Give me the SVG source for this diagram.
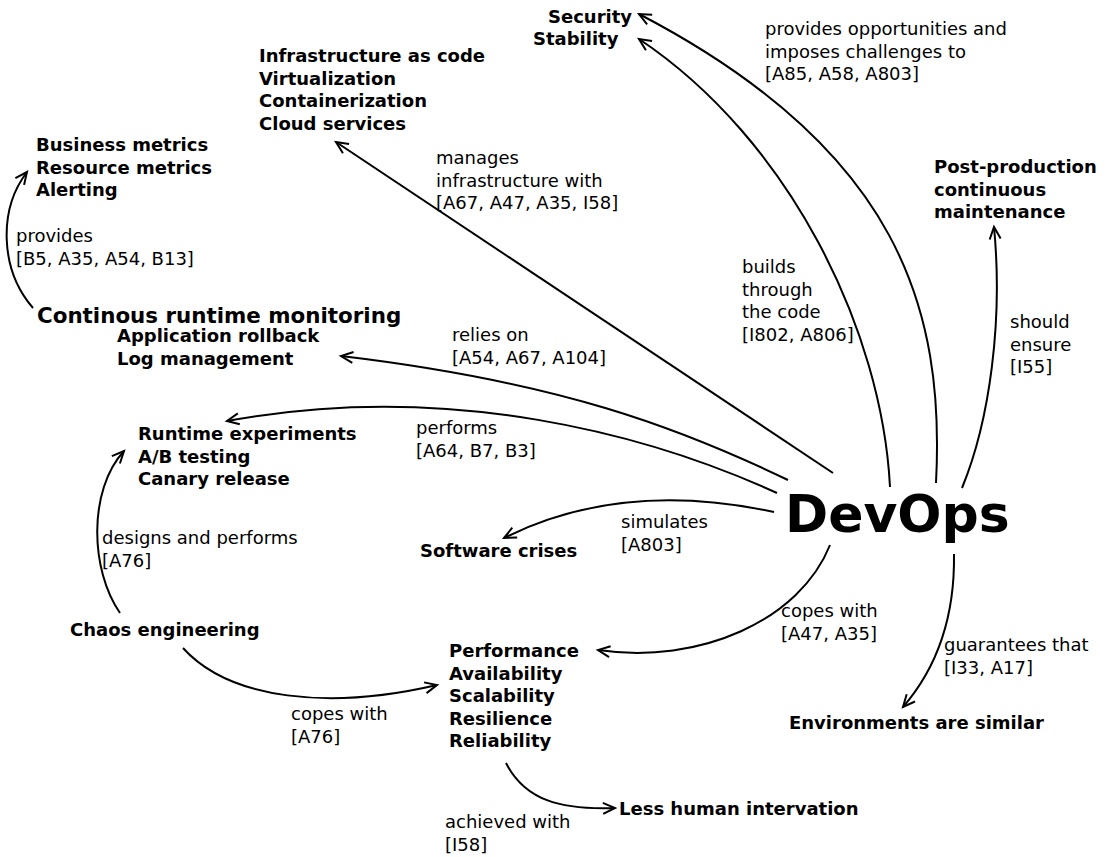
<svg xmlns="http://www.w3.org/2000/svg" width="1111" height="857" viewBox="0 0 1111 857">
<style>
text{font-family:"DejaVu Sans","Liberation Sans",sans-serif;fill:#000}
.n{font-size:18px;font-weight:bold}
.l{font-size:18px}
.big{font-size:52px;font-weight:bold}
.mon{font-size:21.4px;font-weight:bold}
.e{fill:none;stroke:#000;stroke-width:2;marker-end:url(#a)}
</style>
<defs>
<marker id="a" markerUnits="userSpaceOnUse" markerWidth="30" markerHeight="30" refX="0" refY="0" orient="auto" overflow="visible" viewBox="-15 -15 30 30">
<path d="M-12,-5.5 L0,0 L-12,5.5" fill="none" stroke="#000" stroke-width="2"/>
</marker>
</defs>
<rect width="1111" height="857" fill="#fff"/>

<g id="devops"><text class="big" x="785" y="532">DevOps</text></g>
<g id="security"><text class="n" x="548" y="23">Security</text></g>
<g id="stability"><text class="n" x="533" y="45">Stability</text></g>
<g id="infrastructure"><text class="n" x="259" y="62"><tspan x="259">Infrastructure as code</tspan><tspan x="259" dy="22.5">Virtualization</tspan><tspan x="259" dy="22.5">Containerization</tspan><tspan x="259" dy="22.5">Cloud services</tspan></text></g>
<g id="metrics"><text class="n" x="36" y="151"><tspan x="36">Business metrics</tspan><tspan x="36" dy="22.5">Resource metrics</tspan><tspan x="36" dy="22.5">Alerting</tspan></text></g>
<g id="monitoring"><text class="mon" x="37" y="323">Continous runtime monitoring</text></g>
<g id="rollback"><text class="n" x="117" y="342"><tspan x="117">Application rollback</tspan><tspan x="117" dy="22.5">Log management</tspan></text></g>
<g id="experiments"><text class="n" x="138" y="440"><tspan x="138">Runtime experiments</tspan><tspan x="138" dy="22.5">A/B testing</tspan><tspan x="138" dy="22.5">Canary release</tspan></text></g>
<g id="crises"><text class="n" x="420" y="557">Software crises</text></g>
<g id="chaos"><text class="n" x="70" y="636">Chaos engineering</text></g>
<g id="quality"><text class="n" x="449" y="657"><tspan x="449">Performance</tspan><tspan x="449" dy="22.5">Availability</tspan><tspan x="449" dy="22.5">Scalability</tspan><tspan x="449" dy="22.5">Resilience</tspan><tspan x="449" dy="22.5">Reliability</tspan></text></g>
<g id="human"><text class="n" x="619" y="815">Less human intervation</text></g>
<g id="environments"><text class="n" x="789" y="729">Environments are similar</text></g>
<g id="maintenance"><text class="n" x="934" y="173"><tspan x="934">Post-production</tspan><tspan x="934" dy="22.5">continuous</tspan><tspan x="934" dy="22.5">maintenance</tspan></text></g>

<g id="connectors">
<g><path class="e" d="M936,483 C945,310 900,150 639,14"/>
<text class="l" x="765" y="35"><tspan x="765">provides opportunities and</tspan><tspan x="765" dy="22.5">imposes challenges to</tspan><tspan x="765" dy="22.5">[A85, A58, A803]</tspan></text></g>
<g><path class="e" d="M890,487 C882,330 790,140 639,39"/>
<text class="l" x="742" y="273"><tspan x="742">builds</tspan><tspan x="742" dy="22.5">through</tspan><tspan x="742" dy="22.5">the code</tspan><tspan x="742" dy="22.5">[I802, A806]</tspan></text></g>
<g><path class="e" d="M833,473 L336,142"/>
<text class="l" x="436" y="164"><tspan x="436">manages</tspan><tspan x="436" dy="22.5">infrastructure with</tspan><tspan x="436" dy="22.5">[A67, A47, A35, I58]</tspan></text></g>
<g><path class="e" d="M33,308 C0,270 -2,210 27,172"/>
<text class="l" x="16" y="242"><tspan x="16">provides</tspan><tspan x="16" dy="22.5">[B5, A35, A54, B13]</tspan></text></g>
<g><path class="e" d="M788,480 C680,428 560,382 341,356"/>
<text class="l" x="452" y="341"><tspan x="452">relies on</tspan><tspan x="452" dy="22.5">[A54, A67, A104]</tspan></text></g>
<g><path class="e" d="M777,493 C650,435 450,380 227,421"/>
<text class="l" x="416" y="434"><tspan x="416">performs</tspan><tspan x="416" dy="22.5">[A64, B7, B3]</tspan></text></g>
<g><path class="e" d="M774,512 C700,496 600,490 504,538"/>
<text class="l" x="621" y="528"><tspan x="621">simulates</tspan><tspan x="621" dy="22.5">[A803]</tspan></text></g>
<g><path class="e" d="M962,488 C990,420 1003,320 994,227"/>
<text class="l" x="1010" y="328"><tspan x="1010">should</tspan><tspan x="1010" dy="22.5">ensure</tspan><tspan x="1010" dy="22.5">[I55]</tspan></text></g>
<g><path class="e" d="M830,545 C800,620 700,665 598,650"/>
<text class="l" x="781" y="617"><tspan x="781">copes with</tspan><tspan x="781" dy="22.5">[A47, A35]</tspan></text></g>
<g><path class="e" d="M954,554 C955,620 935,670 903,707"/>
<text class="l" x="944" y="651"><tspan x="944">guarantees that</tspan><tspan x="944" dy="22.5">[I33, A17]</tspan></text></g>
<g><path class="e" d="M120,613 C90,570 88,490 124,451"/>
<text class="l" x="102" y="544"><tspan x="102">designs and performs</tspan><tspan x="102" dy="22.5">[A76]</tspan></text></g>
<g><path class="e" d="M183,648 C230,700 330,710 437,685"/>
<text class="l" x="291" y="720"><tspan x="291">copes with</tspan><tspan x="291" dy="22.5">[A76]</tspan></text></g>
<g><path class="e" d="M506,763 C525,800 560,810 615,808"/>
<text class="l" x="445" y="828"><tspan x="445">achieved with</tspan><tspan x="445" dy="22.5">[I58]</tspan></text></g>
</g>
</svg>
